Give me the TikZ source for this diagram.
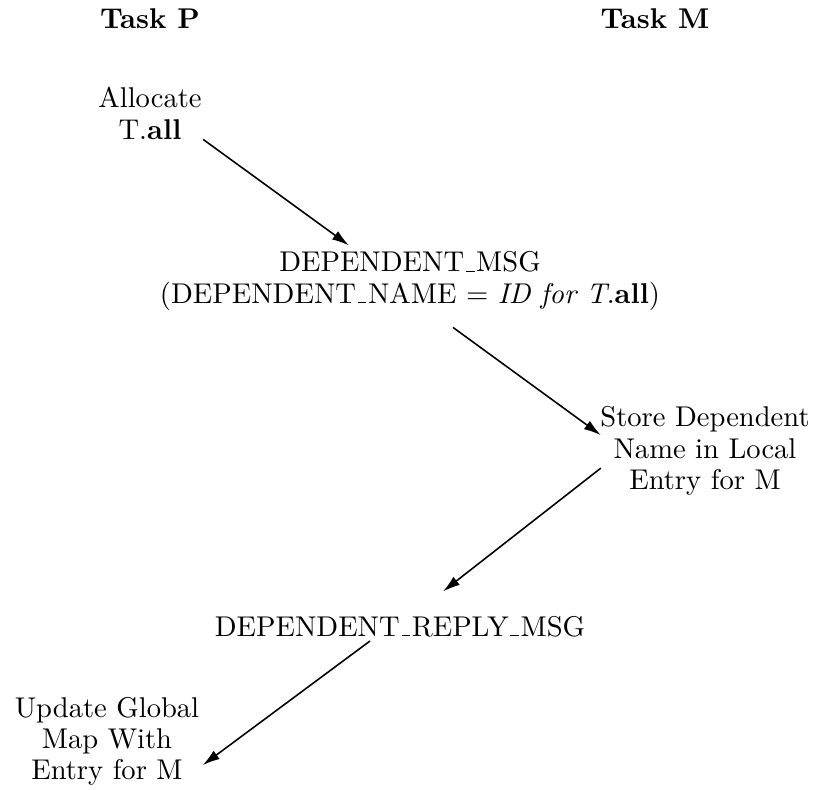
\documentclass[tikz,border=0pt]{standalone}
\usetikzlibrary{calc,arrows.meta}
% centred block of lines whose baseline is that of its first line
\newcommand\textrows[1]{\begin{tabular}[t]{@{}c@{}}#1\end{tabular}}
% short underscore rule sitting on the baseline
\newcommand\uscore{\leavevmode\kern.06em\vbox{\hrule height .5pt width .3em}\kern.06em}
\begin{document}
\begin{tikzpicture}[x=0.35pt,y=-0.35pt,
  lbl/.style={anchor=base,inner sep=0pt,font=\fontsize{10}{11}\selectfont},
  hdr/.style={lbl,font=\fontsize{10}{11}\selectfont\bfseries},
  msg/.style={-{Latex[length=6pt,width=3.6pt]},line width=0.55pt}]
\useasboundingbox (0,0) rectangle (815,790);

% column headings
\node[hdr] (taskP) at (150,29) {\textrows{Task P}};
\node[hdr] (taskM) at (655,29) {\textrows{Task M}};

% steps and messages
\node[lbl] (alloc)  at (150,108) {\textrows{Allocate\\T.\textbf{all}}};
\node[lbl] (dmsg)   at (410,272) {\textrows{DEPENDENT\uscore MSG\\(DEPENDENT\uscore NAME = \textit{ID for T}.\textbf{all})}};
\node[lbl] (store)  at (705,427) {\textrows{Store Dependent\\Name in Local\\Entry for M}};
\node[lbl] (reply)  at (400,636) {\textrows{DEPENDENT\uscore REPLY\uscore MSG}};
\node[lbl] (update) at (107,717) {\textrows{Update Global\\Map With\\Entry for M}};

% message flow
\draw[msg] ($(alloc.east)+(1,22)$)    -- ($(dmsg.north)+(-61,-4)$);
\draw[msg] ($(dmsg.south)+(43,14)$)   -- ($(store.west)+(1,-17)$);
\draw[msg] ($(store.west)+(1,16)$)    -- ($(reply.north)+(43,-22)$);
\draw[msg] ($(reply.south)+(-30,-5)$) -- ($(update.east)+(3,23)$);
\end{tikzpicture}
\end{document}
